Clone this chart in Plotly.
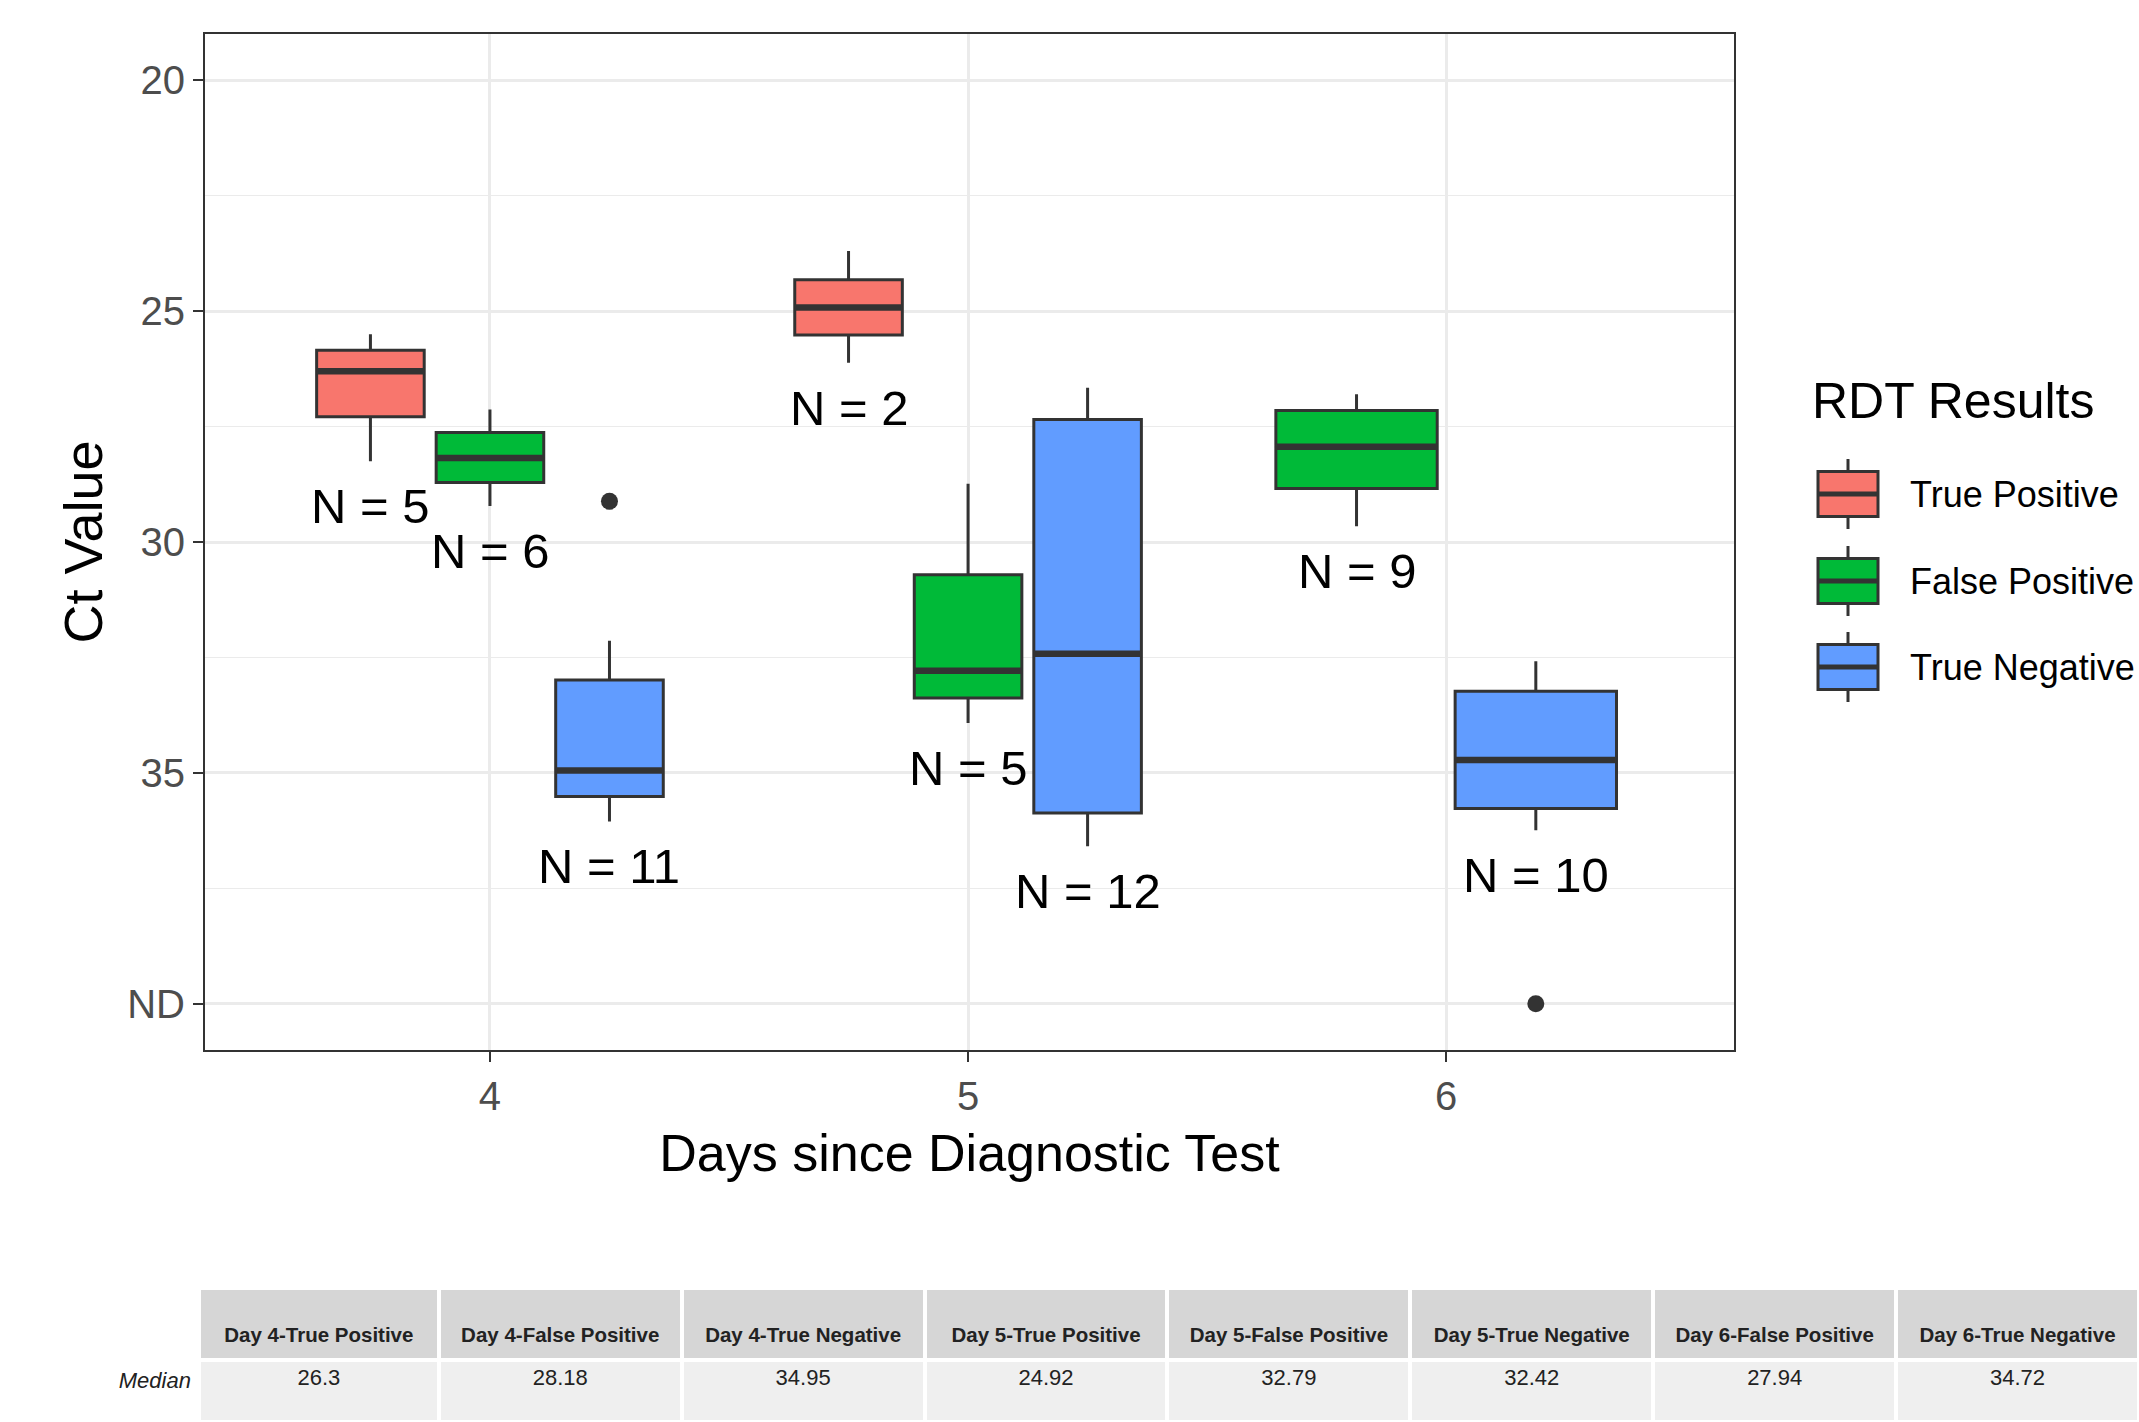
import plotly.graph_objects as go
from collections import Counter

# ---------------- data ----------------
days = [4, 4, 4, 5, 5, 5, 6, 6]
groups = ["True Positive", "False Positive", "True Negative",
          "True Positive", "False Positive", "True Negative",
          "False Positive", "True Negative"]
n_counts = [5, 6, 11, 2, 5, 12, 9, 10]
whisk_lo = [25.50, 27.13, 32.14, 23.70, 28.74, 26.66, 26.80, 32.58]
q1 = [25.85, 27.63, 32.99, 24.32, 30.71, 27.35, 27.15, 33.23]
medians = [26.30, 28.18, 34.95, 24.92, 32.79, 32.42, 27.94, 34.72]
q3 = [27.29, 28.71, 35.51, 25.52, 33.38, 35.87, 28.84, 35.77]
whisk_hi = [28.25, 29.22, 36.05, 26.12, 33.92, 36.59, 29.66, 36.24]
# outliers: (box index, value)
outlier_box = [2, 7]
outlier_val = [29.12, 40.0]

y_tickvals = [20, 25, 30, 35, 40]
y_ticktext = ["20", "25", "30", "35", "ND"]
x_tickvals = [4, 5, 6]

legend_groups = ["True Positive", "False Positive", "True Negative"]
colors = {"True Positive": "#F8766D", "False Positive": "#00BA38", "True Negative": "#619CFF"}

table_headers = ["Day 4-True Positive", "Day 4-False Positive", "Day 4-True Negative",
                 "Day 5-True Positive", "Day 5-False Positive", "Day 5-True Negative",
                 "Day 6-False Positive", "Day 6-True Negative"]
table_medians = ["26.3", "28.18", "34.95", "24.92", "32.79", "32.42", "27.94", "34.72"]

# ---------------- layout constants ----------------
W, H = 2139, 1422
FONT = "Liberation Sans"
DARK = "#333333"

def px(xp):
    return xp / W

def py(yp):
    return 1 - yp / H

# dodge positions
counts = Counter(days)
seen = {}
positions, widths = [], []
for d in days:
    k = counts[d]
    i = seen.get(d, 0)
    seen[d] = i + 1
    slot = 0.75 / k
    positions.append(d + (i - (k - 1) / 2) * slot)
    widths.append(slot * 0.9)

fig = go.Figure()

for i in range(len(days)):
    fig.add_trace(go.Box(
        x=[positions[i]], q1=[q1[i]], median=[medians[i]], q3=[q3[i]],
        lowerfence=[whisk_lo[i]], upperfence=[whisk_hi[i]],
        width=widths[i], orientation="v",
        fillcolor=colors[groups[i]],
        line=dict(color=DARK, width=3),
        whiskerwidth=0, boxpoints=False, showlegend=False,
        name=f"Day {days[i]} {groups[i]}",
    ))

# thicker median bars (ggplot style)
mx, my = [], []
for i in range(len(days)):
    mx += [positions[i] - widths[i] / 2, positions[i] + widths[i] / 2, None]
    my += [medians[i], medians[i], None]
fig.add_trace(go.Scatter(x=mx, y=my, mode="lines", line=dict(color=DARK, width=6.5),
                         showlegend=False, hoverinfo="skip"))

# outliers
fig.add_trace(go.Scatter(
    x=[positions[b] for b in outlier_box], y=outlier_val, mode="markers",
    marker=dict(color=DARK, size=17), showlegend=False))

# N labels
for i in range(len(days)):
    fig.add_annotation(x=positions[i], y=whisk_hi[i] + 0.97, xref="x", yref="y",
                       text=f"N = {n_counts[i]}", showarrow=False,
                       font=dict(family=FONT, size=49, color="black"),
                       xanchor="center", yanchor="middle")

# table
SP = "\u00a0<br>"
fig.add_trace(go.Table(
    domain=dict(x=[0, 1], y=[0, py(1288)]),
    columnwidth=[199, 240, 243, 243, 243, 243, 243, 243, 243],
    header=dict(values=[""] + [SP + f"<b>{h}</b>" for h in table_headers],
                fill_color=["white"] + ["#D6D6D6"] * 8,
                line=dict(color="white", width=4),
                font=dict(family=FONT, size=20.5, color="#222222"),
                align="center", height=72),
    cells=dict(values=[["<i>Median</i>"]] + [[v] for v in table_medians],
               fill_color=["white"] + ["#EFEFEF"] * 8,
               line=dict(color="white", width=4),
               font=dict(family=FONT, size=22, color="#222222"),
               align=["right"] + ["center"] * 8, height=62),
))

# manual ggplot-style legend
fig.add_annotation(x=px(1810), y=py(401), xref="paper", yref="paper", text="RDT Results",
                   showarrow=False, xanchor="left", yanchor="middle",
                   font=dict(family=FONT, size=50, color="black"))
key_cy = [494, 581, 667]
for g, cy in zip(legend_groups, key_cy):
    fig.add_shape(type="line", xref="paper", yref="paper", x0=px(1848), x1=px(1848),
                  y0=py(cy - 35), y1=py(cy + 35), line=dict(color=DARK, width=3))
    fig.add_shape(type="rect", xref="paper", yref="paper", x0=px(1818), x1=px(1878),
                  y0=py(cy - 22.5), y1=py(cy + 22.5), fillcolor=colors[g],
                  line=dict(color=DARK, width=3))
    fig.add_shape(type="line", xref="paper", yref="paper", x0=px(1818), x1=px(1878),
                  y0=py(cy), y1=py(cy), line=dict(color=DARK, width=5))
    fig.add_annotation(x=px(1908), y=py(cy), xref="paper", yref="paper", text=g,
                       showarrow=False, xanchor="left", yanchor="middle",
                       font=dict(family=FONT, size=36, color="black"))

axis_common = dict(
    ticks="outside", ticklen=10, tickwidth=2, tickcolor=DARK,
    showline=True, mirror=True, linecolor=DARK, linewidth=2,
    showgrid=True, gridcolor="#EBEBEB", gridwidth=2.5, zeroline=False,
    tickfont=dict(family=FONT, size=40, color="#4D4D4D"),
)

fig.update_layout(
    width=W, height=H,
    margin=dict(l=0, r=0, t=0, b=0, autoexpand=False),
    paper_bgcolor="white", plot_bgcolor="white",
    font=dict(family=FONT),
    boxmode="overlay",
    showlegend=False,
    xaxis=dict(domain=[px(205), px(1734)], range=[3.404, 6.602],
               tickvals=x_tickvals,
               title=dict(text="Days since Diagnostic Test",
                          font=dict(family=FONT, size=52, color="black"), standoff=18),
               **axis_common),
    yaxis=dict(domain=[py(1050), py(34)], range=[41, 19],
               tickvals=y_tickvals, ticktext=y_ticktext,
               minor=dict(tickvals=[22.5, 27.5, 32.5, 37.5], showgrid=True,
                          gridcolor="#EBEBEB", gridwidth=1.3, ticks=""),
               title=dict(text="Ct Value",
                          font=dict(family=FONT, size=54, color="black"), standoff=7),
               **axis_common),
)

fig.write_html("out.html", config={"displayModeBar": False},
               post_script="document.body.style.margin='0px';document.body.style.overflow='hidden';")
